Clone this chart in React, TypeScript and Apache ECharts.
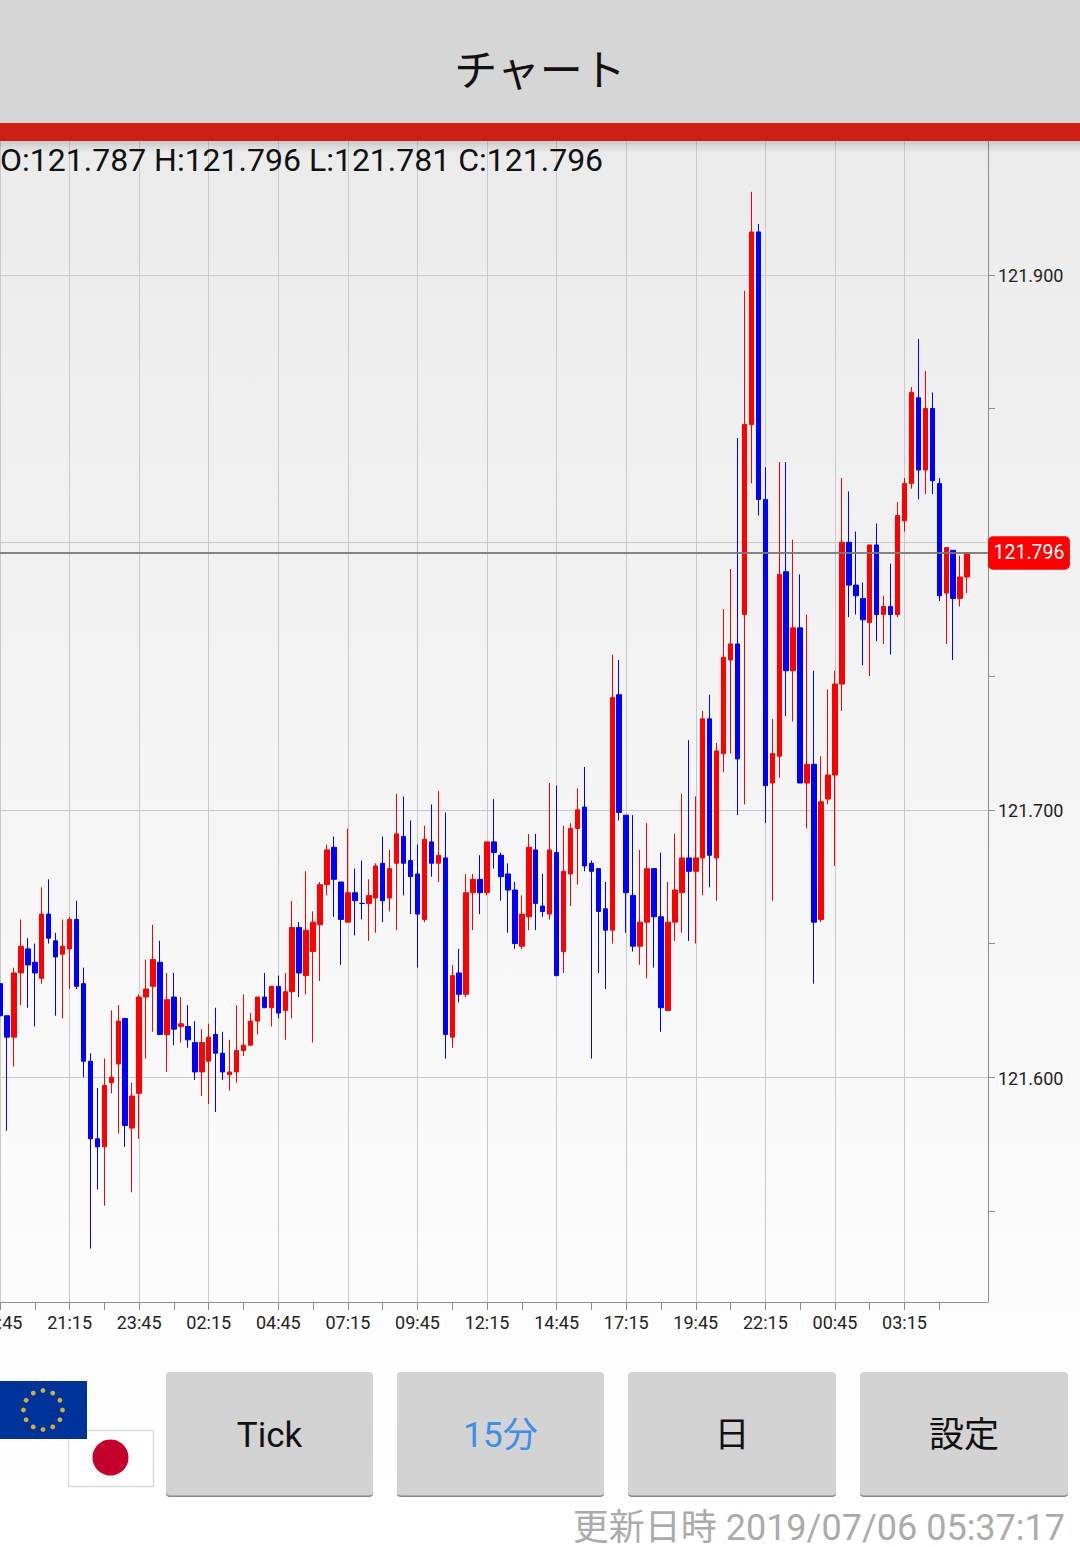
import React, { useEffect, useRef } from "react";
import * as echarts from "echarts";

const tickLabels = ["18:45","21:15","23:45","02:15","04:45","07:15","09:45","12:15","14:45","17:15","19:45","22:15","00:45","03:15"];
const priceTicks = [121.55,121.6,121.65,121.7,121.75,121.8,121.85,121.9];
const priceGrid = [121.6,121.7,121.8,121.9];
const priceLabels = [121.6,121.7,121.9];
const lastPrice = 121.796;
const headerText = "O:121.787 H:121.796 L:121.781 C:121.796";

const opens = [635,623,615,639,648,643,637,661,651,646,648,659,635,606,577,574,598,605,622,581,594,630,634,643,616,630,619,619,613,602,606,616,609,601,602,610,
612,621,630,626,634,625,632,656,638,647,657,672,686,673,658,669,665,665,667,680,667,680,690,681,676,659,688,680,682,615,639,631,669,674,669,688,683,676,670,649,660,685,664,661,684,647,676,693,701,680,678,663,655,743,698,668,649,658,678,660,625,658,669,682,677,682,734,682,721,756,762,773,844,916,816,710,720,789,752,768,710,717,659,704,713,747,800,784,779,770,799,773,776,773,808,822,854,827,850,822,781,797,779,787];
const closes = [623,615,639,649,642,639,661,652,645,649,659,634,606,577,574,597,600,621,582,593,630,633,644,616,629,618,620,614,602,613,615,609,602,602,610,612,
621,630,626,634,624,632,656,639,655,658,672,685,674,659,669,666,665,668,679,666,678,691,680,675,661,689,680,683,616,638,631,669,674,669,688,684,675,670,650,661,686,665,662,685,638,677,693,700,679,677,662,655,742,699,669,649,658,678,660,626,658,670,682,677,682,734,683,722,757,762,719,844,916,816,709,721,788,752,768,710,717,658,703,713,747,800,784,780,771,799,773,776,773,810,822,856,827,850,823,780,798,779,787,796];
const highs = [641,623,641,659,652,650,671,674,654,659,660,666,641,609,596,607,625,627,622,598,631,644,657,651,639,639,630,627,621,618,620,626,617,614,627,631,
624,630,639,634,638,639,666,658,677,662,673,687,690,673,693,678,681,674,680,690,685,706,705,696,687,694,702,707,699,642,648,676,676,683,688,704,684,680,673,668,691,691,676,710,709,694,695,708,716,681,678,673,758,756,698,698,685,695,678,684,673,691,706,726,705,737,743,725,775,790,839,894,931,919,828,734,830,830,801,788,773,752,720,745,752,824,819,804,785,799,807,780,792,815,824,858,876,864,856,824,798,797,795,796];
const lows = [621,580,604,627,626,619,635,650,623,622,633,633,600,536,558,552,594,579,574,557,577,607,617,616,602,612,613,611,599,593,590,587,599,595,598,608,
612,616,626,619,622,614,622,630,631,613,636,668,660,642,658,653,659,651,654,658,662,655,668,661,641,658,675,673,607,611,628,630,655,661,668,678,666,654,648,648,655,655,660,659,638,639,664,672,677,607,639,633,650,696,654,647,642,637,641,617,625,651,654,651,650,668,671,666,714,721,698,702,822,810,695,666,712,735,733,710,693,635,658,702,679,737,772,773,754,750,763,762,758,772,804,820,816,818,818,778,762,756,776,781];

const SLOTS = 143;
const categories: string[] = Array.from({ length: SLOTS }, (_, i) => (i % 10 === 0 && tickLabels[i / 10]) || String(i));
const toPrice = (t: number) => 121 + t / 1000;
const candles = opens.map((o, i) => [toPrice(o), toPrice(closes[i]), toPrice(lows[i]), toPrice(highs[i])]);

const FONT = 'Roboto, "Noto Sans CJK JP", sans-serif';
const buttons = [
  { x: 166, w: 207, label: "Tick", color: "#111111" },
  { x: 397, w: 207, label: "15分", color: "#3d8fe8" },
  { x: 628, w: 208, label: "日", color: "#111111" },
  { x: 860, w: 208, label: "設定", color: "#111111" },
];

const txt = (text: string, x: number, y: number, fontSize: number, fill: string, textAlign = "center") => ({
  type: "text", x, y, z: 100,
  style: { text, fontSize, fill, fontFamily: FONT, textAlign, textVerticalAlign: "middle" },
});

const graphics: any[] = [
  { type: "rect", z: 90, shape: { x: 0, y: 0, width: 1080, height: 124 }, style: { fill: "#d6d6d6" } },
  { type: "rect", z: 90, shape: { x: 0, y: 123, width: 1080, height: 18 }, style: { fill: "#cd1f14" } },
  { type: "rect", z: 90, shape: { x: 0, y: 141, width: 1080, height: 12 },
    style: { fill: { type: "linear", x: 0, y: 0, x2: 0, y2: 1, colorStops: [{ offset: 0, color: "rgba(0,0,0,0.14)" }, { offset: 1, color: "rgba(0,0,0,0)" }] } } },
  { type: "text", x: 540, y: 67, z: 100, style: { text: "チャート", fontSize: 43, fill: "#111111", fontFamily: '"Noto Sans CJK JP"', textAlign: "center", textVerticalAlign: "middle" } },
  txt(headerText, 0, 160, 32, "#111111", "left"),
  { type: "rect", z: 90, shape: { x: 68.5, y: 1430.5, width: 85, height: 56 }, style: { fill: "#ffffff", stroke: "#dcdcdc", lineWidth: 1.5 } },
  { type: "circle", z: 91, shape: { cx: 110.5, cy: 1457.5, r: 18 }, style: { fill: "#c4002b" } },
  { type: "rect", z: 92, shape: { x: 0, y: 1381, width: 87, height: 58 }, style: { fill: "#003399" } },
];
for (let k = 0; k < 12; k++) {
  const a = (k * Math.PI) / 6;
  graphics.push({ type: "circle", z: 93, shape: { cx: 43 + 19.5 * Math.sin(a), cy: 1410 - 19.5 * Math.cos(a), r: 2.4 }, style: { fill: "#c9b340" } });
}
buttons.forEach((b) => {
  graphics.push({ type: "rect", z: 90, shape: { x: b.x, y: 1373, width: b.w, height: 124, r: 4 }, style: { fill: "#858585" } });
  graphics.push({ type: "rect", z: 91, shape: { x: b.x, y: 1372, width: b.w, height: 123.5, r: 4 }, style: { fill: "#d3d3d3" } });
  graphics.push(txt(b.label, b.x + b.w / 2, 1435, 35, b.color));
});
graphics.push(txt("更新日時 2019/07/06 05:37:17", 1065, 1528, 36, "#ababab", "right"));

export default function App() {
  const ref = useRef<HTMLDivElement>(null);
  useEffect(() => {
    document.body.style.margin = "0";
    document.body.style.overflow = "hidden";
    const chart = echarts.init(ref.current!, null, { renderer: "svg" });
    const axisColor = "#8c8c8c";
    chart.setOption({
      animation: false,
      grid: { left: 0, top: 141, width: 988, height: 1161, containLabel: false, outerBoundsMode: "none" },
      xAxis: [
        {
          type: "category", data: categories, boundaryGap: false, position: "bottom",
          axisLine: { show: true, lineStyle: { color: axisColor, width: 1 } },
          axisTick: { show: true, length: 8, interval: (i: number) => i % 5 === 0 && i <= 135, lineStyle: { color: axisColor } },
          axisLabel: { show: true, interval: (i: number) => i % 10 === 0 && i <= 130, formatter: (v: string) => v, fontFamily: FONT, fontSize: 18, color: "#222222", margin: 11, showMinLabel: true, hideOverlap: false },
          splitLine: { show: true, interval: (i: number) => i % 10 === 0 && i <= 130, lineStyle: { color: "#c9c9c9", width: 1 } },
        },
      ],
      yAxis: [
        {
          type: "value", position: "right", min: 121.516, max: 121.95, scale: true,
          axisLine: { show: true, lineStyle: { color: axisColor, width: 1 } },
          axisTick: { show: true, length: 7, inside: false, customValues: priceTicks, lineStyle: { color: axisColor } },
          axisLabel: { show: true, customValues: priceLabels, formatter: (v: number) => "{p|" + v.toFixed(3) + "}", margin: 10,
            rich: { p: { fontFamily: FONT, fontSize: 18, color: "#222222", padding: [2, 0, 0, 0] } } },
          splitLine: { show: false },
        },
        {
          type: "value", position: "right", min: 121.516, max: 121.95, scale: true,
          axisLine: { show: false },
          axisTick: { show: false, customValues: priceGrid },
          axisLabel: { show: false },
          splitLine: { show: true, lineStyle: { color: "#c9c9c9", width: 1 } },
        },
      ],
      series: [
        {
          type: "candlestick", data: candles, barWidth: 5,
          itemStyle: { color: "#ff0000", color0: "#0000ff", borderColor: "#ff0000", borderColor0: "#0000ff", borderWidth: 1 },
          markLine: {
            silent: true, symbol: ["none", "none"], animation: false, precision: 3,
            lineStyle: { color: "rgba(120,120,120,0.9)", width: 2, type: "solid" },
            label: {
              show: true, position: "end", distance: 0, formatter: (p: any) => Number(p.value).toFixed(3),
              backgroundColor: "#ff0000", color: "#ffffff", borderRadius: 5, padding: [7, 5.5], fontFamily: FONT, fontSize: 19.5,
            },
            data: [{ yAxis: lastPrice }],
          },
        },
      ],
      graphic: { elements: graphics },
    });
    return () => chart.dispose();
  }, []);
  return (
    <div
      ref={ref}
      style={{
        width: 1080, height: 1547,
        background: "linear-gradient(180deg, #ebebeb 0px, #ebebeb 141px, #ffffff 1500px)",
      }}
    />
  );
}
